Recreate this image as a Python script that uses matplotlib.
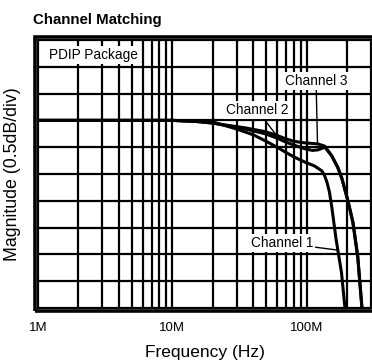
import numpy as np
import matplotlib.pyplot as plt
from matplotlib.patches import Rectangle
from matplotlib.ticker import LogLocator, FixedLocator, NullFormatter

plt.rcParams['font.family'] = ['Liberation Sans', 'DejaVu Sans']

# frequency response readings, MHz / dB
f_ch1 = [1, 10, 15, 20, 30, 40, 49, 60, 69, 80, 97, 114, 129, 135, 141, 147, 153, 165, 181, 191, 196]
db_ch1 = [0, 0, -0.01, -0.03, -0.16, -0.27, -0.38, -0.50, -0.59, -0.68, -0.78, -0.85, -0.94, -1.02,
          -1.15, -1.33, -1.60, -2.22, -2.84, -3.44, -3.80]

f_ch2 = [1, 10, 15, 20, 27, 35, 49, 60, 69, 80, 97, 110, 121, 136, 153, 170, 182, 202, 220, 239, 256, 262]
db_ch2 = [0, 0, -0.02, -0.05, -0.11, -0.16, -0.25, -0.33, -0.40, -0.46, -0.53, -0.56, -0.55, -0.50,
          -0.66, -0.88, -1.08, -1.50, -1.90, -2.54, -3.45, -3.80]

f_ch3 = [1, 10, 15, 20, 27, 35, 49, 60, 69, 80, 97, 110, 121, 136, 153, 170, 182, 202, 220, 239, 256, 262]
db_ch3 = [0, 0, -0.02, -0.05, -0.10, -0.14, -0.21, -0.28, -0.34, -0.39, -0.42, -0.43, -0.44, -0.48,
          -0.66, -0.88, -1.08, -1.50, -1.90, -2.54, -3.45, -3.80]

tick_pos = [1e6, 1e7, 1e8]
tick_lbl = ['1M', '10M', '100M']

fig = plt.figure(figsize=(3.72, 3.63), dpi=100)
ax = fig.add_axes([38 / 372, 1 - 308 / 363, 333 / 372, 268 / 363])

for f, db in [(f_ch1, db_ch1), (f_ch2, db_ch2), (f_ch3, db_ch3)]:
    ax.plot(np.array(f) * 1e6, db, color='black', lw=2.2, solid_capstyle='butt')

ax.set_xscale('log')
ax.set_xlim(1e6, 3e8)
ax.set_ylim(-3.5, 1.5)

ax.xaxis.set_major_locator(FixedLocator(tick_pos))
ax.set_xticklabels(tick_lbl)
ax.xaxis.set_minor_locator(LogLocator(base=10, subs=np.arange(2, 10)))
ax.xaxis.set_minor_formatter(NullFormatter())
ax.yaxis.set_major_locator(FixedLocator(np.arange(-3.5, 1.51, 0.5)))
ax.set_yticklabels([])
ax.tick_params(which='both', length=0, labelsize=9.5, pad=10)
ax.grid(True, which='both', color='black', lw=1.6)
for s in ax.spines.values():
    s.set_linewidth(1.4)

ax.set_xlabel('Frequency (Hz)', fontsize=12.5, labelpad=8)
ax.set_ylabel('Magnitude (0.5dB/div)', fontsize=12.8)
ax.yaxis.set_label_coords(-0.052, 0.5)

# heavy outer border around the grid
fig.add_artist(Rectangle((34.5 / 372, 1 - 311 / 363), 1.0, (311 - 37) / 363,
                         transform=fig.transFigure, fill=False, lw=2.6, color='black'))

fig.text(33 / 372, 1 - 20 / 363, 'Channel Matching', fontsize=10.8, fontweight='bold',
         va='center', ha='left')

box = dict(facecolor='white', edgecolor='none', pad=1.5)
ax.text(0.033, 0.944, 'PDIP Package', transform=ax.transAxes, fontsize=9.8,
        ha='left', va='center', bbox=box, zorder=5)
arrow = dict(arrowstyle='-', lw=1, color='black', shrinkA=0, shrinkB=0)
ax.annotate('Channel 3', xy=(120e6, -0.44), xytext=(0.835, 0.847), textcoords='axes fraction',
            fontsize=9.8, ha='center', va='center', bbox=box, arrowprops=arrow, zorder=5)
ax.annotate('Channel 2', xy=(62e6, -0.34), xytext=(0.658, 0.739), textcoords='axes fraction',
            fontsize=9.8, ha='center', va='center', bbox=box, arrowprops=arrow, zorder=5)
ax.annotate('Channel 1', xy=(170e6, -2.42), xytext=(0.733, 0.243), textcoords='axes fraction',
            fontsize=9.8, ha='center', va='center', bbox=box, arrowprops=arrow, zorder=5)

fig.savefig('out.png', dpi=100)
